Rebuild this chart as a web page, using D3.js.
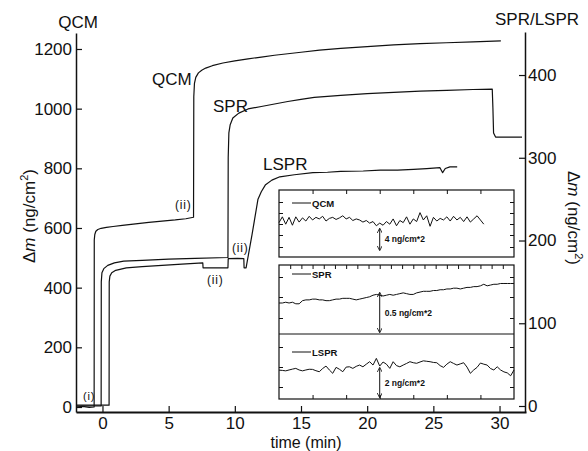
<!DOCTYPE html>
<html>
<head>
<meta charset="utf-8">
<script src="https://cdn.jsdelivr.net/npm/d3@7"></script>
<style>
    body { margin: 0; background: #fff; }
    svg { display: block; font-family: "Liberation Sans", Arial, sans-serif; }
</style>
</head>
<body>
<div class="canvas"></div>
<script>
// DATA

// QCM trace (left axis, ng/cm2)
const qcmTime = [-2, -1.5, -1, -0.63, -0.62, -0.58, -0.5, -0.35, -0.1, 0.3, 0.8, 1.5, 2.5, 3.5, 4.5, 5.5, 6.3, 6.88, 6.9, 6.95, 7.05, 7.25, 7.5, 7.8, 8.3, 9.1, 10, 11, 12, 13, 14, 15, 16.4, 18, 20, 22, 24, 26, 28, 30.1];
const qcmMass = [0, 2, -1, 0, 560, 578, 589, 595, 599, 602, 605, 609, 614, 619, 623, 627, 631, 636, 1040, 1085, 1105, 1120, 1129, 1136, 1144, 1153, 1160, 1167, 1173, 1179, 1184, 1189, 1196, 1202, 1208, 1214, 1218, 1221, 1224, 1227];

// SPR trace (right axis, ng/cm2)
const sprTime = [-2, -0.1, -0.09, -0.04, 0.1, 0.4, 0.9, 1.6, 3, 5, 7, 9.48, 9.5, 9.55, 9.65, 9.85, 10.3, 11, 12, 13, 14, 15, 16, 18, 20, 22, 24, 26, 28, 29.45, 29.5, 29.55, 29.7, 31.7];
const sprMass = [0, 0, 150, 161, 166, 170, 173, 175, 176, 177.5, 178.5, 179.5, 300, 330, 340, 348, 354, 359, 362, 365, 368, 370.5, 373, 375.5, 377.5, 379, 380.5, 381.5, 382.5, 383, 360, 330, 325, 325];

// LSPR trace (right axis, ng/cm2)
const lsprTime = [-2, 0.5, 0.51, 0.56, 0.7, 1.0, 1.8, 3, 4.5, 6, 7.58, 7.6, 9.48, 9.5, 10.2, 10.68, 10.7, 10.85, 11.3, 11.75, 12.0, 12.3, 12.8, 13.4, 14.5, 15.9, 17, 18, 19.7, 21, 22.3, 23.5, 24.5, 25.5, 25.7, 25.9, 26.25, 26.8];
const lsprMass = [1, 1, 150, 157, 161, 164, 167, 168.5, 170, 171.5, 173, 167, 167, 178, 178.5, 178, 167, 167, 207, 250, 259, 267, 273, 277, 279.5, 282, 282.5, 283.5, 284, 285, 285, 286, 287, 288, 282, 287, 289, 289];

// tick labels
const timeTicks = [0, 5, 10, 15, 20, 25, 30];
const qcmTicks = [0, 200, 400, 600, 800, 1000, 1200];
const sprTicks = [0, 100, 200, 300, 400];

// inset noise traces (deviation, ng/cm2, equally spaced samples)
const insetQcm = [-0.5, 0.6, -0.8, 0.5, -1.0, 0.6, -0.4, 0.4, -0.2, 0.7, 0.0, 0.5, 0.2, 0.7, -0.2, 0.3, 0.5, 0.1, 0.4, 0.8, 0.2, 0.5, -0.1, 0.2, 0.0, -0.4, -0.1, -0.6, -0.3, -1.1, -0.6, -1.0, -0.3, -0.8, 0.2, -1.1, -0.1, -0.5, 0.6, -0.8, 0.2, -0.3, 1.4, 0.0, 0.8, -1.2, 0.5, -0.2, 0.3, 0.0, 0.6, -0.2, 0.7, 0.0, 0.5, -0.3, 0.6, -0.4, 0.2, 0.8, 0.0, -0.8];
const insetSpr = [0.00, 0.00, 0.01, 0.00, 0.01, -0.01, -0.01, 0.03, 0.04, 0.04, 0.05, 0.05, 0.04, 0.04, 0.03, 0.03, 0.04, 0.05, 0.05, 0.06, 0.06, 0.06, 0.05, 0.04, 0.05, 0.06, 0.07, 0.08, 0.10, 0.11, 0.10, 0.09, 0.10, 0.11, 0.10, 0.11, 0.12, 0.13, 0.12, 0.11, 0.11, 0.13, 0.14, 0.15, 0.15, 0.15, 0.16, 0.16, 0.17, 0.17, 0.18, 0.18, 0.19, 0.19, 0.18, 0.19, 0.20, 0.20, 0.21, 0.21, 0.22, 0.24, 0.22, 0.23, 0.24, 0.24, 0.25, 0.25, 0.25, 0.25, 0.25];
const insetLspr = [-0.21, -0.23, -0.26, -0.2, -0.14, -0.09, -0.2, -0.26, -0.2, -0.15, -0.16, -0.25, -0.32, -0.1, 0.07, -0.2, -0.43, -0.02, -0.15, -0.32, 0.0, 0.02, -0.09, 0.05, 0.14, 0.02, 0.2, 0.37, 0.14, 0.6, 0.07, 0.35, 0.2, -0.09, 0.37, 0.1, 0.02, 0.14, 0.25, 0.37, 0.3, 0.26, 0.35, 0.43, 0.4, 0.37, 0.32, 0.3, 0.1, -0.02, 0.2, 0.37, 0.25, 0.14, 0.22, 0.3, 0.0, -0.43, -0.2, -0.02, 0.28, 0.2, 0.14, -0.1, -0.2, 0.02, -0.2, -0.33, -0.4, -0.6, -0.2];

// scale bars (ng/cm2, [top, bottom])
const qcmBar = [-1.7, -5.7];
const sprBar = [0.128, -0.372];
const lsprBar = [-0.07, -2.07];


// PLOT

const svg = d3.select('.canvas').append('svg')
    .attr('width', 588)
    .attr('height', 451);

const ink = '#111';

// scales
const x = d3.scaleLinear().domain([-2, 32]).range([76, 526]);
const yLeft = d3.scaleLinear().domain([-16.8, 1253.6]).range([412, 33]);
const yRight = d3.scaleLinear().domain([-7.25, 452]).range([412, 32]);


// AXES
const styleAxis = g => {
    g.select('.domain').attr('stroke', ink).attr('stroke-width', 1.5);
    g.selectAll('.tick line').attr('stroke', ink).attr('stroke-width', 1.2);
    g.selectAll('.tick text')
        .attr('fill', ink)
        .style('font-size', '17px')
        .style('font-family', '"Liberation Sans", Arial, sans-serif');
};
const plain = d3.format('d');

svg.append('g')
    .attr('transform', 'translate(0,412)')
    .call(d3.axisBottom(x).tickValues(timeTicks).tickFormat(plain).tickSizeInner(-6).tickSizeOuter(0).tickPadding(5))
    .call(styleAxis)
    .call(g => g.select('.domain').attr('stroke-width', 2));

svg.append('g')
    .attr('transform', 'translate(76,0)')
    .call(d3.axisLeft(yLeft).tickValues(qcmTicks).tickFormat(plain).tickSizeInner(-6).tickSizeOuter(0).tickPadding(4))
    .call(styleAxis);

svg.append('g')
    .attr('transform', 'translate(525,0)')
    .call(d3.axisRight(yRight).tickValues(sprTicks).tickFormat(plain).tickSizeInner(-6).tickSizeOuter(0).tickPadding(3))
    .call(styleAxis);


// AXIS TITLES
const massTitle = (tx, ty, angle) => {
    const t = svg.append('text')
        .attr('transform', `translate(${tx},${ty}) rotate(${angle})`)
        .attr('text-anchor', 'middle')
        .attr('fill', ink)
        .style('font-size', '17px');
    t.append('tspan').text('Δ');
    t.append('tspan').style('font-style', 'italic').text('m');
    t.append('tspan').text(' (ng/cm');
    t.append('tspan').attr('dy', -7).style('font-size', '11px').text('2');
    t.append('tspan').attr('dy', 7).text(')');
};
massTitle(35, 216, -90);
massTitle(568, 218, 90);

svg.append('text')
    .attr('x', 306).attr('y', 447.5)
    .attr('text-anchor', 'middle')
    .attr('fill', ink)
    .style('font-size', '16px')
    .text('time (min)');

svg.append('text')
    .attr('x', 78).attr('y', 28)
    .attr('text-anchor', 'middle')
    .attr('fill', ink)
    .style('font-size', '17px')
    .text('QCM');

svg.append('text')
    .attr('x', 537).attr('y', 25)
    .attr('text-anchor', 'middle')
    .attr('fill', ink)
    .style('font-size', '17px')
    .text('SPR/LSPR');


// MAIN TRACES
const trace = (times, values, yScale) => {
    svg.append('path')
        .datum(times.map((t, i) => [t, values[i]]))
        .attr('fill', 'none')
        .attr('stroke', ink)
        .attr('stroke-width', 1.2)
        .attr('stroke-linejoin', 'round')
        .attr('d', d3.line().x(d => x(d[0])).y(d => yScale(d[1])));
};
trace(qcmTime, qcmMass, yLeft);
trace(sprTime, sprMass, yRight);
trace(lsprTime, lsprMass, yRight);

// trace labels
[
    ['QCM', 152, 85, 17],
    ['SPR', 213, 112, 17],
    ['LSPR', 263, 170, 17],
    ['(i)', 83, 400, 11],
    ['(ii)', 175, 209, 12],
    ['(ii)', 207, 284, 12],
    ['(ii)', 232, 252, 12]
].forEach(([label, lx, ly, size]) => {
    svg.append('text')
        .attr('x', lx).attr('y', ly)
        .attr('fill', ink)
        .style('font-size', `${size}px`)
        .style('letter-spacing', size < 15 ? '0.8px' : '0px')
        .text(label);
});


// INSET
const inset = svg.append('g');
const ix = d3.scaleLinear().domain([0, 70]).range([279, 514]);
const iyQcm = d3.scaleLinear().domain([-7.05, 5.71]).range([257, 190]);
const iySpr = d3.scaleLinear().domain([-0.397, 0.487]).range([334, 265]);
const iyLspr = d3.scaleLinear().domain([-2.2, 2.28]).range([399, 334]);

// panel frames
[[190, 257], [265, 399]].forEach(([top, bottom]) => {
    inset.append('rect')
        .attr('x', ix(0)).attr('y', top)
        .attr('width', ix(70) - ix(0)).attr('height', bottom - top)
        .attr('fill', '#fff')
        .attr('stroke', ink)
        .attr('stroke-width', 1.2);
});
inset.append('line')
    .attr('x1', ix(0)).attr('x2', ix(70))
    .attr('y1', 334).attr('y2', 334)
    .attr('stroke', ink).attr('stroke-width', 1);

// frame ticks
const tickAxis = (axis, tx, ty) => {
    inset.append('g')
        .attr('transform', `translate(${tx},${ty})`)
        .call(axis.tickFormat('').tickSizeOuter(0))
        .call(g => g.select('.domain').remove())
        .call(g => g.selectAll('.tick line').attr('stroke', ink).attr('stroke-width', 1));
};
const major = [10, 20, 30, 40, 50, 60];
const minor = d3.range(1, 21).map(k => k * 10 / 3);
tickAxis(d3.axisBottom(ix).tickValues(major).tickSizeInner(4), 0, 190);
tickAxis(d3.axisBottom(ix).tickValues(minor).tickSizeInner(4), 0, 265);
tickAxis(d3.axisTop(ix).tickValues(major).tickSizeInner(4), 0, 399);

const sideTicks = (yScale, top, bottom, offsets) => {
    const vals = offsets.map(o => yScale.invert(top + o));
    tickAxis(d3.axisRight(yScale).tickValues(vals).tickSizeInner(4), ix(0), 0);
    tickAxis(d3.axisLeft(yScale).tickValues(vals).tickSizeInner(4), ix(70), 0);
};
sideTicks(iyQcm, 190, 257, [12, 23, 34, 45, 57]);
sideTicks(iySpr, 265, 334, [12, 32, 53]);
sideTicks(iyLspr, 334, 399, [13, 33, 53]);

// noise traces
const insetTrace = (values, yScale) => {
    inset.append('path')
        .datum(values)
        .attr('fill', 'none')
        .attr('stroke', ink)
        .attr('stroke-width', 1)
        .attr('d', d3.line().x((d, i) => ix(i)).y(d => yScale(d)));
};
insetTrace(insetQcm, iyQcm);
insetTrace(insetSpr, iySpr);
insetTrace(insetLspr, iyLspr);

// legends
[['QCM', 203], ['SPR', 274], ['LSPR', 352]].forEach(([label, ly]) => {
    inset.append('line')
        .attr('x1', 292).attr('x2', 311)
        .attr('y1', ly).attr('y2', ly)
        .attr('stroke', ink).attr('stroke-width', 1);
    inset.append('text')
        .attr('x', 312).attr('y', ly + 3.5)
        .attr('fill', ink)
        .style('font-size', '9.5px')
        .style('font-weight', 'bold')
        .text(label);
});

// scale bars
svg.append('defs').append('marker')
    .attr('id', 'arrow')
    .attr('viewBox', '0 0 6 6')
    .attr('refX', 5).attr('refY', 3)
    .attr('markerWidth', 5).attr('markerHeight', 5)
    .attr('markerUnits', 'userSpaceOnUse')
    .attr('orient', 'auto-start-reverse')
    .append('path')
    .attr('d', 'M0,0L6,3L0,6')
    .attr('fill', 'none')
    .attr('stroke', ink)
    .attr('stroke-width', 1);

[[qcmBar, iyQcm, '4 ng/cm*2'], [sprBar, iySpr, '0.5 ng/cm*2'], [lsprBar, iyLspr, '2 ng/cm*2']].forEach(([bar, yScale, label]) => {
    inset.append('line')
        .attr('x1', ix(30)).attr('x2', ix(30))
        .attr('y1', yScale(bar[0])).attr('y2', yScale(bar[1]))
        .attr('stroke', ink).attr('stroke-width', 1)
        .attr('marker-start', 'url(#arrow)')
        .attr('marker-end', 'url(#arrow)');
    inset.append('text')
        .attr('x', ix(30) + 5)
        .attr('y', (yScale(bar[0]) + yScale(bar[1])) / 2 + 3)
        .attr('fill', ink)
        .style('font-size', '8.5px')
        .style('font-weight', 'bold')
        .text(label);
});
</script>
</body>
</html>
